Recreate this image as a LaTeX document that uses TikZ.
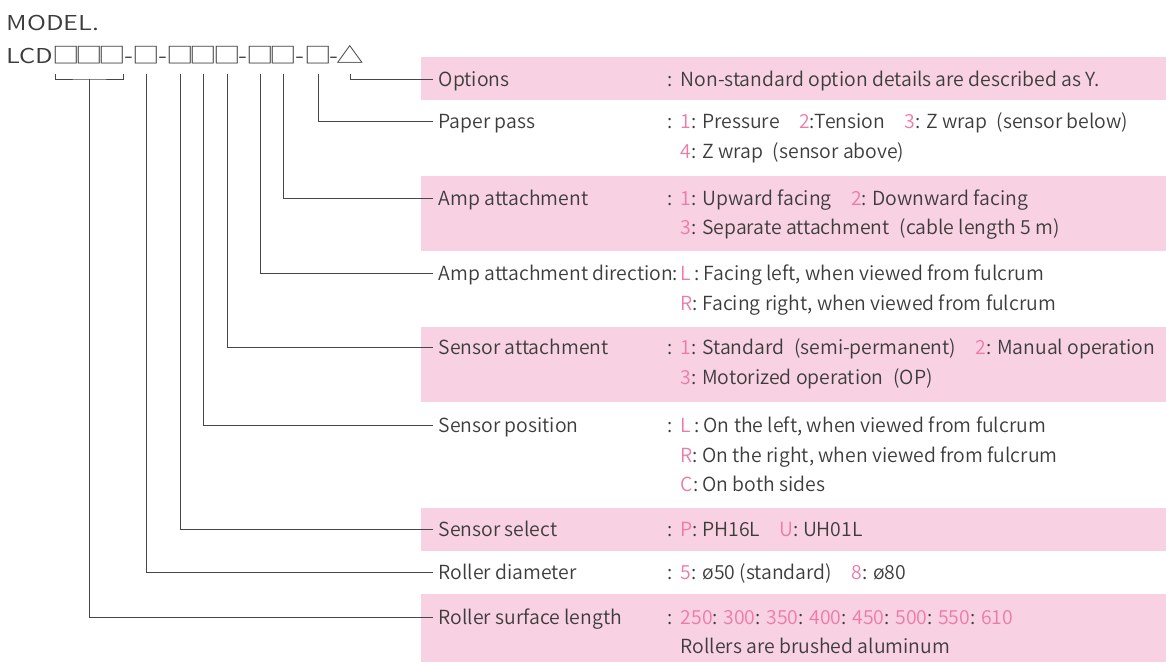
\documentclass[tikz,border=0pt]{standalone}
\usepackage{fontspec}
\IfFontExistsTF{Noto Sans CJK JP DemiLight}
  {\setmainfont{Noto Sans CJK JP DemiLight}}
  {\setmainfont{Noto Sans CJK JP}}
\usepackage{tikz}

\definecolor{ink}{RGB}{60,60,60}
\definecolor{wirec}{RGB}{70,70,70}
\definecolor{band}{RGB}{248,209,226}
\definecolor{pnum}{RGB}{238,122,170}
\newcommand{\pn}[1]{\textcolor{pnum}{#1}}
\newcommand{\cln}{\makebox[13.5pt][l]{:}}
\newcommand{\cw}[1]{\scalebox{1.25}[1]{#1}}

\tikzset{
  code/.style={font=\fontsize{20.5}{20.5}\selectfont, text=ink, inner sep=0pt, anchor=base},
  sq/.style={code, font=\fontsize{22}{22}\selectfont},
  lbl/.style={font=\fontsize{19.4}{23}\selectfont, text=ink, anchor=west,
    inner xsep=5.5pt, inner ysep=0pt, text height=15pt, text depth=1pt},
  desc/.style={lbl, inner xsep=0pt},
  wire/.style={draw=wirec, line width=1pt},
}

\begin{document}
\begin{tikzpicture}[x=1pt,y=-1pt]
\useasboundingbox (0,0) rectangle (1166,662);
% pink rows
\fill[band] (421,57) rectangle (1166,100);
\fill[band] (421,175.7) rectangle (1166,250.7);
\fill[band] (421,326.8) rectangle (1166,401.8);
\fill[band] (421,507.5) rectangle (1166,551);
\fill[band] (421,594) rectangle (1166,662);

% model code
\node[code, anchor=base west] (model) at (6.5,30) {\cw{MODEL.}};
\node[code, anchor=base west] (lcd) at (6.5,63) {\cw{LCD}};
\node[sq] (a1) at (66.5,63) {\cw{□}};
\node[sq] (a2) at (89.5,63) {\cw{□}};
\node[sq] (a3) at (112.5,63) {\cw{□}};
\node[code] (h1) at (129,63) {\cw{-}};
\node[sq] (b) at (146,63) {\cw{□}};
\node[code] (h2) at (163,63) {\cw{-}};
\node[sq] (c1) at (180,63) {\cw{□}};
\node[sq] (c2) at (203.5,63) {\cw{□}};
\node[sq] (c3) at (227,63) {\cw{□}};
\node[code] (h3) at (243,63) {\cw{-}};
\node[sq] (d1) at (260,63) {\cw{□}};
\node[sq] (d2) at (283,63) {\cw{□}};
\node[code] (h4) at (300,63) {\cw{-}};
\node[sq] (e) at (318,63) {\cw{□}};
\node[code] (h5) at (333.5,63) {\cw{-}};
\node[sq] (f) at (350.5,63) {\cw{△}};

% labels
\node[lbl] (opt) at (433,79) {Options};
\node[desc] (opt1) at (667,79) {\cln Non-standard option details are described as Y.};

\node[lbl] (pp) at (433,121.5) {Paper pass};
\node[desc] (pp1) at (667,121.5) {\cln\pn{1}: Pressure\quad\pn{2}:Tension\quad\pn{3}: Z wrap\enspace(sensor below)};
\node[desc] (pp2) at (680.5,151) {\pn{4}: Z wrap\enspace(sensor above)};

\node[lbl] (amp) at (433,198) {Amp attachment};
\node[desc] (amp1) at (667,198) {\cln\pn{1}: Upward facing\quad\pn{2}: Downward facing};
\node[desc] (amp2) at (680.5,227.5) {\pn{3}: Separate attachment\enspace(cable length 5 m)};

\node[lbl] (dir) at (433,273.6) {Amp attachment direction:};
\node[desc] (dir1) at (680.5,273.6) {\pn{L}\hspace{3pt}: Facing left, when viewed from fulcrum};
\node[desc] (dir2) at (680.5,303) {\pn{R}: Facing right, when viewed from fulcrum};

\node[lbl] (satt) at (433,347.5) {Sensor attachment};
\node[desc] (satt1) at (667,347.5) {\cln\pn{1}: Standard\enspace(semi-permanent)\quad\pn{2}: Manual operation};
\node[desc] (satt2) at (680.5,377) {\pn{3}: Motorized operation\enspace(OP)};

\node[lbl] (spos) at (433,425.4) {Sensor position};
\node[desc] (spos1) at (667,425.4) {\cln\pn{L}\hspace{3pt}: On the left, when viewed from fulcrum};
\node[desc] (spos2) at (680.5,455) {\pn{R}: On the right, when viewed from fulcrum};
\node[desc] (spos3) at (680.5,484) {\pn{C}: On both sides};

\node[lbl] (ssel) at (433,529) {Sensor select};
\node[desc] (ssel1) at (667,529) {\cln\pn{P}: PH16L\quad\pn{U}: UH01L};

\node[lbl] (rdia) at (433,572) {Roller diameter};
\node[desc] (rdia1) at (667,572) {\cln\pn{5}: ø50 (standard)\quad\pn{8}: ø80};

\node[lbl] (rlen) at (433,617) {Roller surface length};
\node[desc] (rlen1) at (667,617) {\cln\pn{250}: \pn{300}: \pn{350}: \pn{400}: \pn{450}: \pn{500}: \pn{550}: \pn{610}};
\node[desc] (rlen2) at (680.5,646) {Rollers are brushed aluminum};

% leader lines
\draw[wire] ([yshift=-11pt]f.base) |- (opt.west);
\draw[wire] ([yshift=-11pt]e.base) |- (pp.west);
\draw[wire] ([yshift=-11pt]d2.base) |- (amp.west);
\draw[wire] ([yshift=-11pt]d1.base) |- (dir.west);
\draw[wire] ([yshift=-11pt]c3.base) |- (satt.west);
\draw[wire] ([yshift=-11pt]c2.base) |- (spos.west);
\draw[wire] ([yshift=-11pt]c1.base) |- (ssel.west);
\draw[wire] ([yshift=-11pt]b.base) |- (rdia.west);
\draw[wire] ([xshift=2.5pt,yshift=-11pt]a1.base west) |- ([yshift=-16pt]a2.base) -| ([xshift=-2.5pt,yshift=-11pt]a3.base east);
\draw[wire] ([yshift=-16pt]a2.base) |- (rlen.west);
\end{tikzpicture}
\end{document}
